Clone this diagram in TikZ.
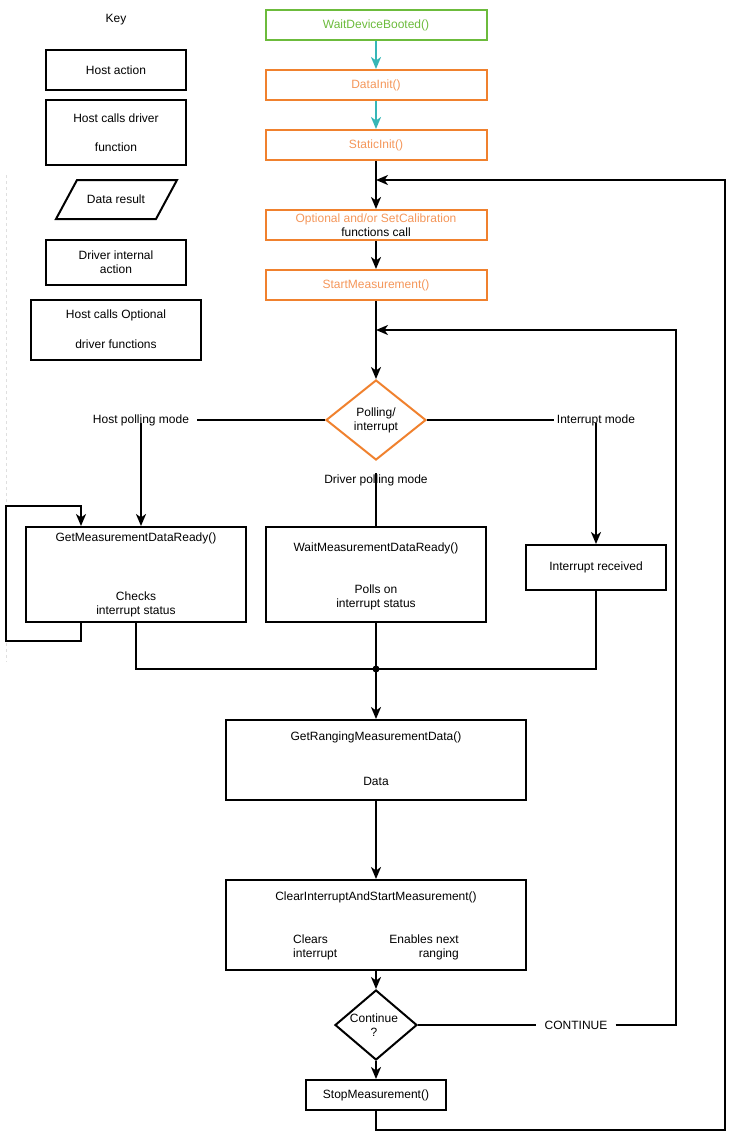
\documentclass[tikz,border=0pt]{standalone}
\usepackage{fontspec}
\setmainfont{Liberation Sans}
\usetikzlibrary{arrows.meta,shapes.geometric}
\definecolor{dgreen}{RGB}{108,187,60}
\definecolor{dteal}{RGB}{54,183,183}
\definecolor{dorange}{RGB}{240,129,46}
\definecolor{torange}{RGB}{244,150,90}
\begin{document}
\begin{tikzpicture}[x=1pt,y=-1pt,
  every node/.style={font=\fontsize{12}{14}\selectfont, inner sep=0pt},
  box/.style={draw, line width=2pt, rectangle},
  obox/.style={box, draw=dorange, text=torange},
  gbox/.style={box, draw=dgreen, text=dgreen},
  lbl/.style={align=center},
  ln/.style={line width=2pt},
  arr/.style={ln, -{Stealth[length=12pt,width=10pt,inset=3.5pt]}},
  tarr/.style={arr, draw=dteal, -{Stealth[length=12pt,width=10pt,inset=3.5pt,color=dteal]}},
]
\useasboundingbox (0,0) rectangle (737,1138);
% faint guide
\draw[gray!25, dashed, line width=0.6pt] (6,175) -- (6,662);

% ---- key ----
\node (key) at (116,20) {Key};
\node[box, minimum width=140, minimum height=40] (kha) at (116,70) {Host action};
\node[box, minimum width=140, minimum height=65] (khd) at (116,132.5) {};
\node (khdt1) at (116,118) {Host calls driver};
\node (khdt2) at (116,147) {function};
\draw[line width=2pt] (56,219) -- (77,180) -- (177,180) -- (156,219) -- cycle;
\node (kdr) at (116,199) {Data result};
\node[box, minimum width=140, minimum height=45, align=center] (kdi) at (116,262.5) {Driver internal\\action};
\node[box, minimum width=170, minimum height=60] (kho) at (116,330) {};
\node (khot1) at (116,315) {Host calls Optional};
\node (khot2) at (116,344) {driver functions};

% ---- main column ----
\node[gbox, minimum width=221, minimum height=30] (wdb) at (376,25) {WaitDeviceBooted()};
\node[obox, minimum width=221, minimum height=30] (di) at (376,85) {DataInit()};
\node[obox, minimum width=221, minimum height=30] (st) at (376,145) {StaticInit()};
\node[obox, minimum width=221, minimum height=30, align=center] (opt) at (376,225) {Optional and/or SetCalibration\\\textcolor{black}{functions call}};
\node[obox, minimum width=221, minimum height=30] (sm) at (376,285) {StartMeasurement()};

\node[draw=dorange, line width=2pt, diamond, minimum width=100, minimum height=80] (poll) at (376,420) {};
\node[lbl] (pollt) at (376,420) {Polling/\\interrupt};

\node (hpm) at (141,420) {Host polling mode};
\node (dpm) at (376,480) {Driver polling mode};
\node (im) at (596,420) {Interrupt mode};

\node[box, minimum width=220, minimum height=95] (gmd) at (136,574.5) {};
\node (gmdt) at (136,538) {GetMeasurementDataReady()};
\node[lbl] (gmdc) at (136,604) {Checks\\interrupt status};

\node[box, minimum width=220, minimum height=95] (wmd) at (376,574.5) {};
\node (wmdt) at (376,548) {WaitMeasurementDataReady()};
\node[lbl] (wmdc) at (376,597) {Polls on\\interrupt status};

\node[box, minimum width=140, minimum height=45] (ir) at (596,567.5) {Interrupt received};

\coordinate (j) at (376,669);

\node[box, minimum width=300, minimum height=80] (grm) at (376,760) {};
\node (grmt) at (376,737) {GetRangingMeasurementData()};
\node (grmd) at (376,781) {Data};

\node[box, minimum width=300, minimum height=90] (cis) at (376,925) {};
\node (cist) at (376,897) {ClearInterruptAndStartMeasurement()};
\node[align=left, anchor=west] (cisl) at (293,947) {Clears\\interrupt};
\node[align=right, anchor=east] (cisr) at (459,947) {Enables next\\ranging};

\node[draw, line width=2pt, diamond, minimum width=82, minimum height=70] (cont) at (376,1025) {};
\node[lbl] (contt) at (374,1025) {Continue\\?};
\node (cl) at (576,1025) {CONTINUE};

\node[box, minimum width=140, minimum height=30] (stop) at (376,1095) {StopMeasurement()};

\coordinate (m1) at (376,180);
\coordinate (m2) at (376,330);
\coordinate (c1) at (725,1130);
\coordinate (c2) at (725,180);
\coordinate (c3) at (676,330);
\coordinate (s1) at (81,641);
\coordinate (s2) at (6,641);
\coordinate (s3) at (6,506);
\coordinate (s4) at (81,506);

% ---- connectors ----
\draw[tarr] (wdb.south) -- (di.north);
\draw[tarr] (di.south) -- (st.north);
\draw[arr] (st.south) -- (opt.north);
\draw[arr] (opt.south) -- (sm.north);
\draw[arr] (sm.south) -- (poll.north);
\draw[ln] (poll.west) -- ([xshift=8pt]hpm.east);
\draw[arr] ([yshift=3pt]hpm.south) -- (hpm.south |- gmd.north);
\draw[ln] (poll.east) -- ([xshift=-3pt]im.west);
\draw[arr] ([yshift=3pt]im.south) -- (im.south |- ir.north);
\draw[ln] ([yshift=-12pt]poll.south) -- ([yshift=-2pt]dpm.center);
\draw[ln] ([yshift=4pt]dpm.south) -- (wmd.north);
\draw[ln] (gmd.south) |- (j);
\draw[ln] (ir.south) |- (j);
\draw[ln] (wmd.south) -- (j);
\fill (j) circle (3.5);
\draw[arr] (j) -- (grm.north);
\draw[arr] (grm.south) -- (cis.north);
\draw[arr] (cis.south) -- (cont.north);
\draw[ln] (cont.east) -- ([xshift=-8pt]cl.west);
\draw[arr] ([xshift=8pt]cl.east) -| (c3) -- (m2);
\draw[arr] (cont.south) -- (stop.north);
\draw[arr] (stop.south) |- (c1) -- (c2) -- (m1);
\draw[arr] (gmd.south -| s1) -- (s1) -- (s2) -- (s3) -- (s4) -- (s4 |- gmd.north);
\end{tikzpicture}
\end{document}
